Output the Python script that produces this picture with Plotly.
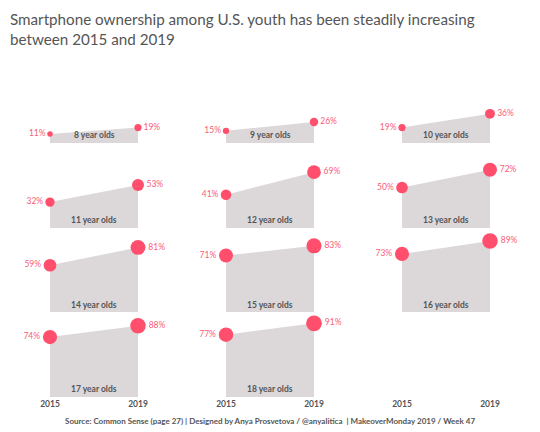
import plotly.graph_objects as go
import math

ages = ["8 year olds", "9 year olds", "10 year olds", "11 year olds", "12 year olds",
        "13 year olds", "14 year olds", "15 year olds", "16 year olds", "17 year olds",
        "18 year olds"]
v2015 = [11, 15, 19, 32, 41, 50, 59, 71, 73, 74, 77]
v2019 = [19, 26, 36, 53, 69, 72, 81, 83, 89, 88, 91]
years = [2015, 2019]
tick_labels = ["2015", "2019"]

OFF = 8  # page body margin
W, H = 540 - OFF, 432 - OFF
col_left = [6 - OFF, 182 - OFF, 358 - OFF]
col_w = 176
row_base = [143 - OFF, 228 - OFF, 313 - OFF, 397 - OFF]
row_h = 85

CIRCLE = "#FF4F6C"
LABEL = "#F95C77"
AREA = "#DCD8DA"
TXT = "#555555"
FONT = "Lato"

fig = go.Figure()
layout_axes = {}

for i in range(12):
    r, c = divmod(i, 3)
    n = i + 1
    xa = "xaxis" if n == 1 else f"xaxis{n}"
    ya = "yaxis" if n == 1 else f"yaxis{n}"
    xref = "x" if n == 1 else f"x{n}"
    yref = "y" if n == 1 else f"y{n}"
    x0 = max(col_left[c], 0) / W
    x1 = (col_left[c] + col_w) / W
    rng = [2013 + (x0 * W - col_left[c]) / 22, 2021]
    y0 = (H - row_base[r]) / H
    y1 = (H - row_base[r] + row_h) / H
    layout_axes[xa] = dict(domain=[x0, x1], range=rng, anchor=yref,
                           showgrid=False, zeroline=False, showline=False,
                           tickvals=years, ticktext=tick_labels,
                           showticklabels=(r == 3), ticks="",
                           tickfont=dict(family=FONT, size=8.5, color=TXT, weight="bold"),
                           fixedrange=True)
    layout_axes[ya] = dict(domain=[y0, y1], range=[0, 105], anchor=xref,
                           showgrid=False, zeroline=False, showline=False,
                           showticklabels=False, fixedrange=True)
    if i >= len(ages):
        fig.add_trace(go.Scatter(x=years, y=[0, 0], mode="lines", line=dict(width=0),
                                 hoverinfo="skip", showlegend=False, xaxis=xref, yaxis=yref))
        continue
    vals = [v2015[i], v2019[i]]
    fig.add_trace(go.Scatter(x=years, y=vals, mode="lines", fill="tozeroy",
                             fillcolor=AREA, line=dict(color=AREA, width=0),
                             hoverinfo="skip", showlegend=False, xaxis=xref, yaxis=yref))
    sizes = [1.65 * math.sqrt(v) for v in vals]
    fig.add_trace(go.Scatter(x=years, y=vals, mode="markers+text",
                             marker=dict(color=CIRCLE, size=sizes, opacity=1, line=dict(width=0)),
                             text=[f"{v}%" for v in vals],
                             textposition=["middle left", "middle right"],
                             textfont=dict(family=FONT, size=8.5, color=LABEL),
                             cliponaxis=False, showlegend=False,
                             xaxis=xref, yaxis=yref))
    fig.add_annotation(x=2017, y=0, xref=xref, yref=yref, text=ages[i],
                       showarrow=False, yanchor="bottom", yshift=1,
                       font=dict(family=FONT, size=8.5, color=TXT, weight="bold"))

fig.add_annotation(x=0, y=(H - 0) / H, xref="paper", yref="paper",
                   xanchor="left", yanchor="top", align="left", showarrow=False,
                   text="Smartphone ownership among U.S. youth has been steadily increasing<br>between 2015 and 2019",
                   font=dict(family=FONT, size=15.2, color=TXT))
fig.add_annotation(x=(270 - OFF) / W, y=(H - (421 - OFF)) / H, xref="paper", yref="paper",
                   xanchor="center", yanchor="middle", showarrow=False,
                   text="Source: Common Sense (page 27) | Designed by Anya Prosvetova / @anyalitica  | MakeoverMonday 2019 / Week 47",
                   font=dict(family=FONT, size=8, color=TXT, weight="bold"))

fig.update_layout(width=W, height=H, margin=dict(l=0, r=0, t=0, b=0),
                  paper_bgcolor="white", plot_bgcolor="white", **layout_axes)

fig.write_html("out.html")
